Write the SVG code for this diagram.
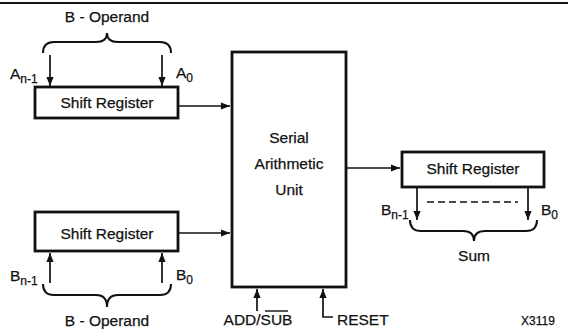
<svg xmlns="http://www.w3.org/2000/svg" width="568" height="329" viewBox="0 0 568 329">
<style>
text{font-family:"Liberation Sans",Arial,sans-serif;font-size:15.5px;fill:#111;stroke:#111;stroke-width:0.25}
.box{fill:#fff;stroke:#111;stroke-width:2.8}
.ln{fill:none;stroke:#111;stroke-width:1.7}
.br{fill:none;stroke:#111;stroke-width:2}
.sub{font-size:12px}
</style>
<defs>
<marker id="ah" viewBox="0 0 10 10" refX="10" refY="5" markerWidth="9" markerHeight="9" markerUnits="userSpaceOnUse" orient="auto">
<path d="M0,1 L10,5 L0,9 Z" fill="#111"/>
</marker>
</defs>
<rect width="568" height="329" fill="#fff"/>
<line x1="0" y1="3" x2="568" y2="3" stroke="#111" stroke-width="1.8"/>

<g id="top-operand">
<text x="107" y="22" text-anchor="middle">B - Operand</text>
<path class="br" d="M43,53 Q43,42 54,42 L96,42 Q107,42 107,33 Q107,42 118,42 L160,42 Q171,42 171,53"/>
<text x="10" y="79">A<tspan class="sub" dy="4">n-1</tspan></text>
<text x="176" y="78">A<tspan class="sub" dy="4">0</tspan></text>
</g>

<g id="shift-reg-a">
<rect class="box" x="35" y="87" width="143" height="31"/>
<text x="107" y="108" text-anchor="middle">Shift Register</text>
</g>

<g id="shift-reg-b">
<rect class="box" x="35" y="212" width="143" height="39"/>
<text x="107" y="239" text-anchor="middle">Shift Register</text>
</g>

<g id="bottom-operand">
<text x="10" y="281">B<tspan class="sub" dy="4">n-1</tspan></text>
<text x="176" y="280">B<tspan class="sub" dy="4">0</tspan></text>
<path class="br" d="M43,284 Q43,295 54,295 L96,295 Q107,295 107,307 Q107,295 118,295 L160,295 Q171,295 171,284"/>
<text x="107" y="326" text-anchor="middle">B - Operand</text>
</g>

<g id="sau">
<rect class="box" x="232" y="52" width="114" height="235"/>
<text x="289" y="143" text-anchor="middle">Serial</text>
<text x="289" y="169" text-anchor="middle">Arithmetic</text>
<text x="289" y="195" text-anchor="middle">Unit</text>
</g>

<g id="shift-reg-sum">
<rect class="box" x="402" y="152" width="142" height="35"/>
<text x="473" y="174" text-anchor="middle">Shift Register</text>
<line x1="427" y1="202" x2="518" y2="202" stroke="#111" stroke-width="1.6" stroke-dasharray="7,4"/>
<text x="381" y="215">B<tspan class="sub" dy="4">n-1</tspan></text>
<text x="541" y="215">B<tspan class="sub" dy="4">0</tspan></text>
<path class="br" d="M410,220 Q410,231 421,231 L463,231 Q474,231 474,241 Q474,231 485,231 L526,231 Q537,231 537,220"/>
<text x="474" y="261" text-anchor="middle">Sum</text>
</g>

<g id="controls">
<text x="258" y="325" text-anchor="middle">ADD/SUB</text>
<line x1="265" y1="311" x2="288" y2="311" stroke="#111" stroke-width="1.4"/>
<text x="337" y="325">RESET</text>
</g>

<text x="521" y="325" style="font-size:12px">X3119</text>

<g id="connectors">
<line class="ln" x1="50" y1="55" x2="50" y2="86" marker-end="url(#ah)"/>
<line class="ln" x1="162" y1="55" x2="162" y2="86" marker-end="url(#ah)"/>
<line class="ln" x1="50" y1="283" x2="50" y2="253" marker-end="url(#ah)"/>
<line class="ln" x1="162" y1="283" x2="162" y2="253" marker-end="url(#ah)"/>
<line class="ln" x1="179" y1="106" x2="230" y2="106" marker-end="url(#ah)"/>
<line class="ln" x1="179" y1="233" x2="230" y2="233" marker-end="url(#ah)"/>
<line class="ln" x1="347" y1="168" x2="400" y2="168" marker-end="url(#ah)"/>
<line class="ln" x1="417" y1="188" x2="417" y2="220" marker-end="url(#ah)"/>
<line class="ln" x1="528" y1="188" x2="528" y2="220" marker-end="url(#ah)"/>
<line class="ln" x1="257" y1="311" x2="257" y2="289" marker-end="url(#ah)"/>
<path class="ln" d="M333,317 L323,317 L323,289" marker-end="url(#ah)"/>
</g>
</svg>
